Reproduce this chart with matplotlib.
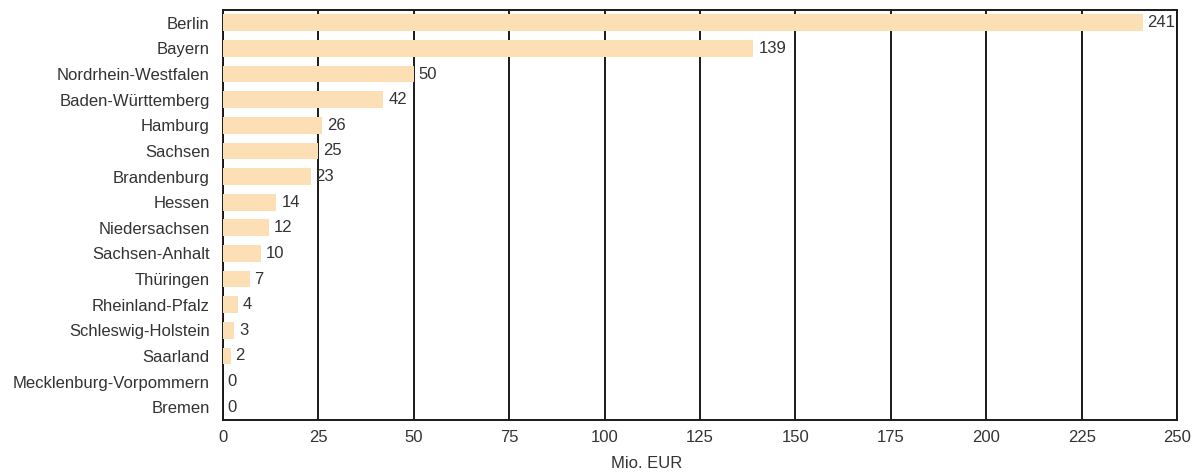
import matplotlib.pyplot as plt

plt.rcParams['font.family'] = ['Liberation Sans', 'DejaVu Sans']

# Data (Mio. EUR by Bundesland)
states = ['Berlin', 'Bayern', 'Nordrhein-Westfalen', 'Baden-Württemberg', 'Hamburg',
          'Sachsen', 'Brandenburg', 'Hessen', 'Niedersachsen', 'Sachsen-Anhalt',
          'Thüringen', 'Rheinland-Pfalz', 'Schleswig-Holstein', 'Saarland',
          'Mecklenburg-Vorpommern', 'Bremen']
values = [241, 139, 50, 42, 26, 25, 23, 14, 12, 10, 7, 4, 3, 2, 0, 0]
xticks = [0, 25, 50, 75, 100, 125, 150, 175, 200, 225, 250]

text_color = '#333333'
bar_color = '#FDDFB6'
fs = 12

fig = plt.figure(figsize=(11.95, 4.72), dpi=100)
ax = fig.add_axes([0.1866, 0.110, 0.7984, 0.869])

y = list(range(len(states)))
ax.barh(y, values, height=0.65, color=bar_color, zorder=3)

for yi, v in zip(y, values):
    ax.annotate(str(v), (v, yi), xytext=(3.5, 0), textcoords='offset points',
                ha='left', va='center', fontsize=fs, color=text_color, zorder=4)

ax.set_xlim(0, 250)
ax.set_ylim(len(states) - 0.5, -0.5)
ax.set_yticks(y)
ax.set_yticklabels(states, fontsize=fs, color=text_color)
ax.set_xticks(xticks)
ax.set_xticklabels([str(t) for t in xticks], fontsize=fs, color=text_color)
ax.tick_params(axis='y', length=0, pad=9.5)
ax.tick_params(axis='x', length=0, pad=7)

ax.grid(axis='x', color='#1a1a1a', linewidth=1.4, zorder=1)
for s in ax.spines.values():
    s.set_color('#1a1a1a')
    s.set_linewidth(1.4)

fig.text(647 / 1195, 1 - 463 / 472, 'Mio. EUR', ha='center', va='center',
         fontsize=fs, color=text_color)

fig.savefig('out.png', dpi=100)
